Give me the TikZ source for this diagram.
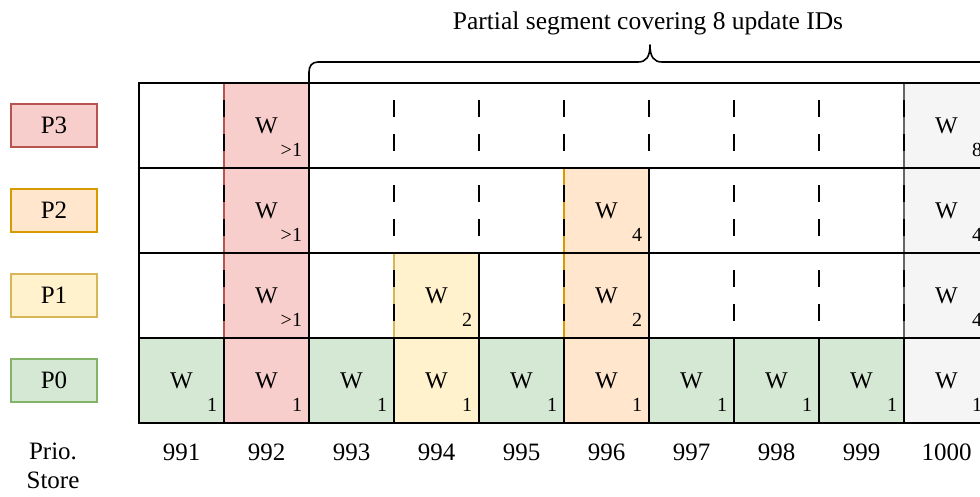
\documentclass[tikz,border=0pt]{standalone}
\usepackage{fontspec}
\setmainfont{Liberation Serif}
\definecolor{redF}{HTML}{F8CECC}\definecolor{redD}{HTML}{B85450}
\definecolor{orangeF}{HTML}{FFE6CC}\definecolor{orangeD}{HTML}{D79B00}
\definecolor{yellowF}{HTML}{FFF2CC}\definecolor{yellowD}{HTML}{D6B656}
\definecolor{greenF}{HTML}{D5E8D4}\definecolor{greenD}{HTML}{82B366}
\definecolor{grayF}{HTML}{F5F5F5}\definecolor{grayD}{HTML}{666666}
\begin{document}
\begin{tikzpicture}[x=1pt,y=-1pt,
  every node/.style={inner sep=0pt,outer sep=0pt},
  txt/.style={font=\fontsize{25}{29}\selectfont},
  ttxt/.style={font=\fontsize{25.5}{29}\selectfont},
  wtxt/.style={font=\fontsize{24}{28}\selectfont},
  subtxt/.style={font=\fontsize{20}{24}\selectfont},
  slot/.style={rectangle,minimum width=85pt,minimum height=85pt},
  prio/.style={rectangle,minimum width=86pt,minimum height=43pt,line width=1.6pt,
    font=\fontsize{25}{29}\selectfont},
  grid/.style={line width=1.6pt,black,line cap=rect},
  edge/.style={line width=1.6pt},
  sep/.style={line width=1.6pt,black,dash pattern=on 17pt off 17pt,dash phase=17pt},
  brace/.style={line width=1.6pt,black,line join=round}]
\useasboundingbox (0,0) rectangle (980,496);
\fill[white] (0,0) rectangle (980,496);
\begin{scope}
\clip (0,0) rectangle (980,496);
% slots of the store: rows 0..3 are P0..P3, columns 0..9 are IDs 991..1000
\foreach \r in {0,...,3}
  \foreach \c in {0,...,9}
    \node[slot] (s\r-\c) at ({181.5+85*\c},{380.5-85*\r}) {};

% occupied slots in the upper priority rows
\foreach \r/\c/\f/\d/\n in {3/1/redF/redD/{>1}, 3/9/grayF/grayD/8,
    2/1/redF/redD/{>1}, 2/5/orangeF/orangeD/4, 2/9/grayF/grayD/4,
    1/1/redF/redD/{>1}, 1/3/yellowF/yellowD/2, 1/5/orangeF/orangeD/2, 1/9/grayF/grayD/4}{
  \draw[edge,fill=\f,draw=\d] (s\r-\c.north west) rectangle (s\r-\c.south east);
  \node[wtxt] (w\r-\c) at (s\r-\c) {W};
  \node[subtxt,anchor=base east] (n\r-\c) at ([xshift=-7pt,yshift=12pt]s\r-\c.south east) {\n};
}

% dashed slot separators
\foreach \r in {1,2,3}
  \foreach \c in {1,...,9}
    \draw[sep] (s\r-\c.north west) -- (s\r-\c.south west);

% P0 row: every slot holds a write
\foreach \c/\f in {0/greenF,1/redF,2/greenF,3/yellowF,4/greenF,5/orangeF,
    6/greenF,7/greenF,8/greenF,9/grayF}{
  \draw[grid,fill=\f] (s0-\c.north west) rectangle (s0-\c.south east);
  \node[wtxt] (w0-\c) at (s0-\c) {W};
  \node[subtxt,anchor=base east] (n0-\c) at ([xshift=-7pt,yshift=12pt]s0-\c.south east) {1};
}

% row borders and solid separators
\foreach \r in {1,2,3}
  \draw[grid] (s\r-0.north west) -- (s\r-9.north east);
\draw[grid] (s3-0.north west) -- (s1-0.south west);
\draw[grid] (s3-1.north east) -- (s1-1.south east);
\draw[grid] (s2-5.north east) -- (s1-5.south east);
\draw[grid] (s1-3.north east) -- (s1-3.south east);

% priority legend
\node[prio,fill=redF,draw=redD] (p3) at (54,125.5) {P3};
\node[prio,fill=orangeF,draw=orangeD] (p2) at (54,210.5) {P2};
\node[prio,fill=yellowF,draw=yellowD] (p1) at (54,295.5) {P1};
\node[prio,fill=greenF,draw=greenD] (p0) at (54,380.5) {P0};

% update IDs
\node[txt,align=center,anchor=north] (store) at (53,443) {Prio.\\Store};
\foreach \c/\id in {0/991,1/992,2/993,3/994,4/995,5/996,6/997,7/998,8/999,9/1000}
  \node[txt,anchor=base] (id\c) at ({181.5+85*\c},460) {\id};

% brace over the partial segment
\coordinate (bl) at (s3-2.north west);
\coordinate (br) at (s3-9.north east);
\draw[brace] (bl) -- (309,72) .. controls (309,66) and (312,62) .. (318,62)
  -- (638,62) .. controls (646,62) and (650,57) .. (650,45)
  .. controls (650,57) and (654,62) .. (662,62)
  -- (980,62) .. controls (986,62) and (989,66) .. (989,72) -- (br);
\node[ttxt,anchor=base] (title) at (648,29) {Partial segment covering 8 update IDs};
\end{scope}
\end{tikzpicture}
\end{document}
